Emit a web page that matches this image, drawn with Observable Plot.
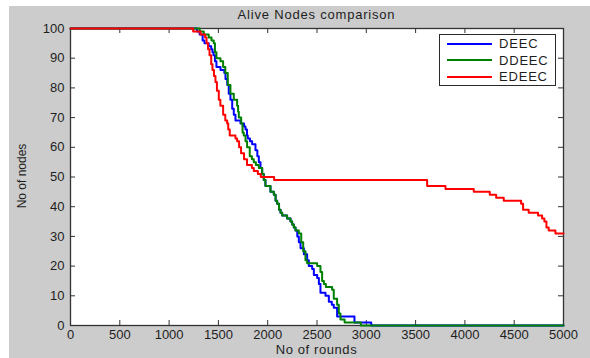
<!DOCTYPE html>
<html><head><meta charset="utf-8">
<script src="https://cdn.jsdelivr.net/npm/d3@7"></script>
<script src="https://cdn.jsdelivr.net/npm/@observablehq/plot@0.6"></script>
<style>
body{margin:0;background:#fff;}
#wrap{position:relative;width:590px;height:358px;overflow:hidden;font-family:"Liberation Sans",Arial,sans-serif;color:#1e1e1e;}
#fig{position:absolute;left:9px;top:6px;width:581px;height:352px;background:#cccccc;}
#fig svg{display:block;}
.title{position:absolute;left:70px;width:493px;top:7px;text-align:center;font-size:13px;letter-spacing:0.8px;line-height:16px;}
.xlab{position:absolute;left:70px;width:493px;top:342px;text-align:center;font-size:13px;letter-spacing:0.6px;line-height:16px;}
.ylab{position:absolute;left:22px;top:176px;transform:translate(-50%,-50%) rotate(-90deg);white-space:nowrap;font-size:12px;line-height:14px;}
.legend{position:absolute;left:439px;top:34px;width:115px;height:50px;background:#fff;border:1px solid #2a2a2a;}
.legend .row{position:absolute;left:7px;height:16px;font-size:13px;letter-spacing:0.8px;line-height:16px;}
.legend .sw{display:inline-block;width:45px;height:2px;vertical-align:middle;margin-right:7px;position:relative;top:-1px;}
</style>
</head><body>
<div id="wrap">
  <div id="fig"></div>
  <div class="title">Alive Nodes comparison</div>
  <div class="xlab">No of rounds</div>
  <div class="ylab">No of nodes</div>
  <div class="legend" id="legend"></div>
</div>
<script>
const seriesNames = ["DEEC", "DDEEC", "EDEEC"];
const seriesColors = ["#0000ff", "#008000", "#ff0000"];
const xTicks = [0, 500, 1000, 1500, 2000, 2500, 3000, 3500, 4000, 4500, 5000];
const yTicks = [0, 10, 20, 30, 40, 50, 60, 70, 80, 90, 100];

const deecRounds = [0,1284,1310,1340,1359,1402,1427,1440,1450,1465,1480,1521,1560,1572,1590,1605,1622,1640,1656,1673,1724,1760,1775,1790,1798,1820,1842,1876,1895,1910,1927,1944,1960,1977,2028,2062,2080,2096,2115,2130,2147,2197,2231,2248,2265,2282,2300,2316,2333,2367,2400,2417,2451,2468,2502,2519,2535,2586,2620,2650,2670,2704,2880,3050,5000];
const deecNodes  = [100,99,98,96,95,94,93,92,91,89,87,86,85,83,81,78,76,73,71,69,68,67,66,64,63,62,61,59,57,55,53,51,49,47,45,44,42,41,39,38,37,36,35,34,33,32,30,28,26,24,22,20,19,17,16,14,11,10,8,7,6,3,1,0,0];

const ddeecRounds = [0,1311,1352,1402,1430,1453,1465,1480,1521,1548,1570,1595,1622,1656,1690,1700,1707,1731,1745,1757,1775,1791,1818,1840,1859,1880,1910,1944,1960,1977,2028,2062,2080,2096,2115,2130,2147,2197,2231,2248,2265,2282,2316,2340,2360,2383,2400,2502,2535,2552,2570,2590,2653,2670,2704,2721,2738,2780,2945,5000];
const ddeecNodes  = [100,99,98,97,96,95,92,90,89,87,85,81,78,76,74,72,70,68,65,64,62,60,57,56,55,54,53,51,49,47,45,44,42,41,39,38,37,36,35,34,33,32,31,28,25,22,21,20,18,15,14,13,12,9,7,4,2,1,0,0];

const edeecRounds = [0,1244,1318,1365,1380,1395,1410,1427,1440,1455,1470,1485,1504,1520,1548,1570,1589,1600,1615,1673,1690,1710,1730,1760,1790,1840,1859,1900,1930,2065,3617,3803,4090,4252,4317,4394,4570,4590,4647,4742,4783,4806,4827,4850,4918,5000];
const edeecNodes  = [100,99,98,97,95,93,91,88,86,84,82,79,76,74,71,69,68,66,64,63,62,60,58,56,54,53,52,51,50,49,47,46,45,44,43,42,41,39,38,37,36,35,33,32,31,31];

const toRows = (rs, ns) => rs.map((r, i) => ({r, n: ns[i]}));
const series = [toRows(deecRounds, deecNodes), toRows(ddeecRounds, ddeecNodes), toRows(edeecRounds, edeecNodes)];

const W = 581, H = 352, ML = 61, MR = 27, MT = 22, MB = 33;
const pw = W - ML - MR, ph = H - MT - MB, tk = 5;
const axisColor = "#333333";

const chart = Plot.plot({
  width: W, height: H,
  marginLeft: ML, marginRight: MR, marginTop: MT, marginBottom: MB,
  style: {background: "transparent", fontFamily: "'Liberation Sans', Arial, sans-serif", fontSize: "13px", color: "#1e1e1e"},
  x: {domain: [0, 5000]},
  y: {domain: [0, 100]},
  marks: [
    Plot.frame({fill: "white"}),
    Plot.tickX(xTicks, {x: d => d, insetTop: ph - tk, stroke: axisColor}),
    Plot.tickX(xTicks, {x: d => d, insetBottom: ph - tk, stroke: axisColor}),
    Plot.tickY(yTicks, {y: d => d, insetRight: pw - tk, stroke: axisColor}),
    Plot.tickY(yTicks, {y: d => d, insetLeft: pw - tk, stroke: axisColor}),
    Plot.frame({stroke: axisColor, strokeWidth: 1.3}),
    Plot.axisX({ticks: xTicks, tickSize: 0, tickPadding: 4, tickFormat: d3.format("d"), label: null, style: "letter-spacing:0.5px"}),
    Plot.axisY({ticks: yTicks, tickSize: 0, tickPadding: 6, tickFormat: d3.format("d"), label: null, style: "letter-spacing:0.5px"}),
    ...series.map((data, i) => Plot.line(data, {x: "r", y: "n", curve: "step-after", stroke: seriesColors[i], strokeWidth: 2}))
  ]
});
document.getElementById("fig").appendChild(chart);

const legend = document.getElementById("legend");
seriesNames.forEach((name, i) => {
  const row = document.createElement("div");
  row.className = "row";
  row.style.top = (1 + i * 16.5) + "px";
  const sw = document.createElement("span");
  sw.className = "sw";
  sw.style.background = seriesColors[i];
  row.appendChild(sw);
  row.appendChild(document.createTextNode(name));
  legend.appendChild(row);
});
</script>
</body></html>
